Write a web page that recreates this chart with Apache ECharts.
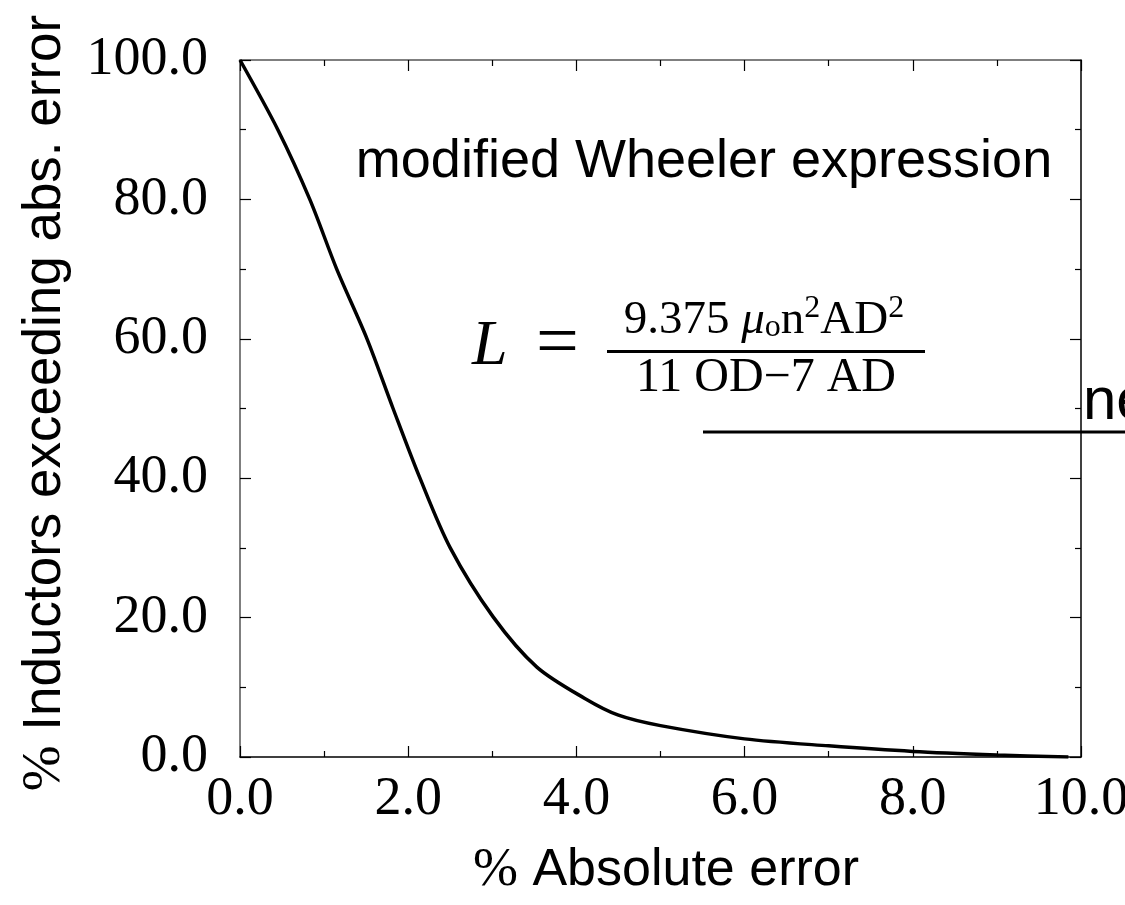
<!DOCTYPE html>
<html lang="en">
<head>
    <meta charset="UTF-8">
    <script src="https://cdn.jsdelivr.net/npm/echarts@6/dist/echarts.min.js"></script>
    <title>Wheeler error distribution</title>
    <style>
        html, body { margin: 0; padding: 0; background: #fff; }
        #chart { width: 1125px; height: 905px; }
    </style>
</head>
<body>
<div id="chart"></div>
<script>
    // % absolute error (x) vs % inductors exceeding that error (y)
    const absError = [0, 0.45, 0.83, 1.15, 1.51, 1.82, 2.14, 2.5, 3.01, 3.53, 4.1, 4.5, 5.0, 6.0, 7.0, 8.0, 9.0, 9.85]
    const pctExceeding = [100, 90, 80, 70, 60, 50, 40, 30, 20.1, 12.9, 8.4, 6.0, 4.5, 2.6, 1.6, 0.8, 0.3, 0.0]

    const xRange = [0, 10]
    const yRange = [0, 100]
    const titleText = 'modified Wheeler expression'
    const xTitle = 'Absolute error'
    const yTitle = 'Inductors exceeding abs. error'

    const serif = 'Liberation Serif'
    const sans = 'Liberation Sans'

    let points = []
    for (let i = 0; i < absError.length; i++) {
        points.push([absError[i], pctExceeding[i]])
    }

    function axisBase(pos, showLabel, lineColor) {
        return {
            type: 'value',
            position: pos,
            splitLine: { show: false },
            axisLine: { show: true, onZero: false, lineStyle: { color: lineColor, width: 1.5 } },
            axisTick: { show: true, inside: true, length: 11, lineStyle: { color: '#000', width: 1.2 } },
            minorTick: { show: true, splitNumber: 2, length: 6, lineStyle: { color: '#000', width: 1.2 } },
            minorSplitLine: { show: false },
            axisLabel: {
                show: showLabel,
                color: '#000',
                fontFamily: serif,
                fontSize: 54,
                formatter: function (v) { return v.toFixed(1) }
            }
        }
    }

    let xBottom = axisBase('bottom', true, '#000')
    xBottom.min = xRange[0]; xBottom.max = xRange[1]; xBottom.interval = 2
    xBottom.axisLabel.margin = 16
    let xTop = axisBase('top', false, '#555')
    xTop.min = xRange[0]; xTop.max = xRange[1]; xTop.interval = 2

    let yLeft = axisBase('left', true, '#555')
    yLeft.min = yRange[0]; yLeft.max = yRange[1]; yLeft.interval = 20
    yLeft.axisLabel.margin = 32
    let yRight = axisBase('right', false, '#000')
    yRight.min = yRange[0]; yRight.max = yRange[1]; yRight.interval = 20

    const option = {
        animation: false,
        backgroundColor: '#fff',
        grid: { left: 240, right: 44, top: 60, bottom: 148, containLabel: false, outerBoundsMode: 'none' },
        xAxis: [xBottom, xTop],
        yAxis: [yLeft, yRight],
        series: [{
            type: 'line',
            xAxisIndex: 0,
            yAxisIndex: 0,
            data: points,
            showSymbol: false,
            smooth: 0.3,
            lineStyle: { color: '#000', width: 3.5 }
        }],
        graphic: [
            {
                type: 'text', x: 704, y: 162,
                style: { text: titleText, fontFamily: sans, fontSize: 54, fill: '#000', align: 'center', verticalAlign: 'middle' }
            },
            {
                type: 'text', x: 666, y: 871,
                style: {
                    text: '{p|%}{s| ' + xTitle + '}',
                    align: 'center', verticalAlign: 'middle',
                    rich: {
                        p: { fontFamily: serif, fontSize: 54, fill: '#000' },
                        s: { fontFamily: sans, fontSize: 52, fill: '#000' }
                    }
                }
            },
            {
                type: 'text', x: 45, y: 403, rotation: Math.PI / 2,
                style: {
                    text: '{p|%}{s| ' + yTitle + '}',
                    align: 'center', verticalAlign: 'middle',
                    rich: {
                        p: { fontFamily: serif, fontSize: 55, fill: '#000' },
                        s: { fontFamily: sans, fontSize: 53, fill: '#000' }
                    }
                }
            },
            // formula L = 9.375 mu_o n^2 AD^2 / (11 OD - 7 AD)
            {
                type: 'text', x: 472, y: 347,
                style: { text: 'L', fontFamily: serif, fontStyle: 'italic', fontSize: 64, fill: '#000', align: 'left', verticalAlign: 'middle' }
            },
            {
                type: 'text', x: 536, y: 346,
                style: { text: '=', fontFamily: serif, fontSize: 76, fill: '#000', align: 'left', verticalAlign: 'middle' }
            },
            {
                type: 'text', x: 764, y: 344,
                style: {
                    text: '{n|9.375 }{m|μ}{o|o}{n|n}{u|2}{n|AD}{u|2}',
                    align: 'center', verticalAlign: 'bottom',
                    rich: {
                        n: { fontFamily: serif, fontSize: 47, fill: '#000', verticalAlign: 'bottom', lineHeight: 50 },
                        m: { fontFamily: serif, fontStyle: 'italic', fontSize: 47, fill: '#000', verticalAlign: 'bottom', lineHeight: 50 },
                        o: { fontFamily: serif, fontSize: 32, fill: '#000', verticalAlign: 'bottom', lineHeight: 42 },
                        u: { fontFamily: serif, fontSize: 32, fill: '#000', verticalAlign: 'bottom', lineHeight: 32, padding: [0, 0, 19, 0] }
                    }
                }
            },
            {
                type: 'line',
                shape: { x1: 607, y1: 351.5, x2: 925, y2: 351.5 },
                style: { stroke: '#000', lineWidth: 3 }
            },
            {
                type: 'text', x: 766, y: 378,
                style: { text: '11 OD\u22127 AD', fontFamily: serif, fontSize: 48, fill: '#000', align: 'center', verticalAlign: 'middle' }
            },
            // clipped key entry at the right edge
            {
                type: 'line',
                shape: { x1: 703, y1: 432, x2: 1125, y2: 432 },
                style: { stroke: '#000', lineWidth: 3 }
            },
            {
                type: 'text', x: 1083, y: 402,
                style: { text: 'ne', fontFamily: sans, fontSize: 60, fill: '#000', align: 'left', verticalAlign: 'middle' }
            }
        ]
    }

    var chart = echarts.init(document.getElementById('chart'))
    chart.setOption(option)
</script>
</body>
</html>
